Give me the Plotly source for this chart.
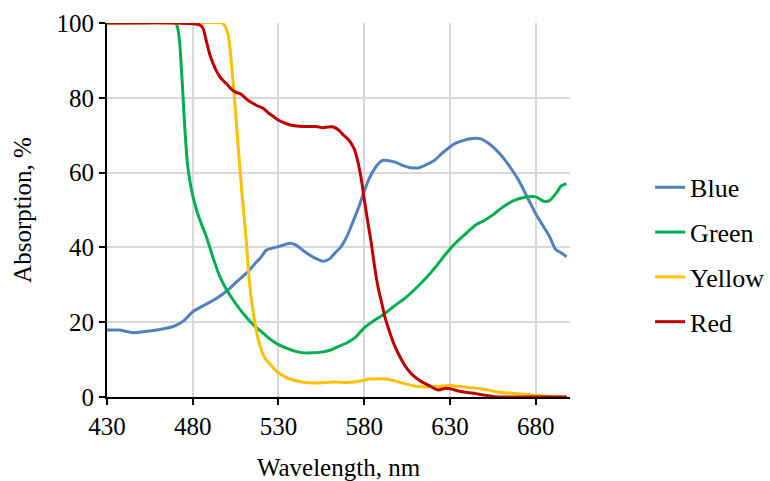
import plotly.graph_objects as go

# Wavelength (nm) / absorption (%)
blue_x = [430, 437, 445, 452, 460, 466, 470.5, 475, 480, 487, 494, 501.5, 506, 511, 516, 520, 523, 528, 532, 536.5, 540, 544, 548, 552, 556, 560, 563, 566.5, 570, 574, 577, 580, 583, 586, 588.5, 591, 594, 598, 602, 607, 612, 617, 621, 625, 629, 633, 637, 641, 645, 648, 652, 656, 661, 665, 670, 675, 680, 684, 688, 691.5, 695, 698]
blue_y = [17.9, 17.9, 17.2, 17.5, 18, 18.5, 19.2, 20.5, 22.8, 24.6, 26.4, 29, 31, 33, 35.5, 37.5, 39.3, 40, 40.5, 41.1, 40.7, 39.3, 38, 37, 36.3, 37, 38.5, 40.2, 43, 47.5, 51, 55, 58.5, 61, 62.5, 63.3, 63.2, 62.8, 62, 61.3, 61.3, 62.3, 63.3, 65, 66.5, 67.8, 68.5, 69, 69.2, 69, 68, 66.5, 64, 61.5, 58, 53.5, 49, 46, 43, 39.5, 38.5, 37.5]

green_x = [430, 450, 470, 471.5, 472.5, 473.5, 474.5, 475.5, 477, 479, 481, 484, 488, 492, 496, 500, 505, 510, 515, 520, 525, 530, 535, 540, 545, 550, 555, 560, 565, 570, 575, 580, 586, 592, 598, 604, 610, 616, 622, 628, 634, 640, 645, 650, 655, 660, 665, 670, 675, 680, 685, 688, 692, 695, 698]
green_y = [100, 100, 100, 98, 94, 87, 79, 71, 62, 56, 52, 47.5, 42.8, 37, 32, 28.5, 25, 22, 19.5, 17.5, 15.5, 14, 13, 12.2, 11.8, 11.8, 12, 12.5, 13.5, 14.5, 16, 18.5, 20.5, 22.3, 24.5, 26.5, 29, 31.8, 35, 38.5, 41.5, 44, 46, 47.2, 48.7, 50.5, 52, 53, 53.5, 53.5, 52.3, 52.5, 54.5, 56.5, 57]

yellow_x = [430, 480, 497, 499, 501, 503, 505, 507, 509, 511, 513, 515, 517, 519, 522, 525, 529, 533, 538, 543, 548, 555, 562, 570, 577, 583, 588, 593, 598, 604, 610, 617, 624, 630, 636, 642, 648, 654, 660, 666, 672, 678, 684, 690, 698]
yellow_y = [100, 100, 100, 99, 96, 87, 76, 64, 53, 43, 31, 23.5, 18, 14, 10.5, 8.8, 6.8, 5.6, 4.6, 4.1, 3.8, 3.8, 4, 3.9, 4.2, 4.8, 4.9, 4.8, 4.3, 3.5, 2.9, 2.7, 2.9, 3.1, 2.8, 2.5, 2.2, 1.7, 1.2, 1, 0.8, 0.5, 0.3, 0.1, 0]

red_x = [430, 470, 484, 486, 488, 490, 492, 494, 496, 498, 500, 502, 505, 508, 511, 514, 517, 521, 524, 527, 530, 534, 538, 542, 547, 552, 556, 559, 562, 565, 568, 571, 574, 576, 578, 580, 582, 584, 586, 588, 590, 592, 594, 597, 600, 604, 608, 613, 618, 623, 627, 630, 635, 640, 645, 650, 656, 665, 680, 698]
red_y = [100, 100, 99.5, 98.6, 95, 91.5, 89, 87, 85.5, 84.5, 83.6, 82.5, 81.5, 81, 79.8, 78.8, 78, 77.2, 76, 75, 74, 73.2, 72.6, 72.4, 72.3, 72.3, 72, 72.2, 72.2, 71.4, 70, 68.7, 66.5, 63.5, 59, 53, 47, 41.5, 35, 29.5, 25.5, 21.5, 18.5, 14.5, 11.5, 8.2, 6, 4.2, 3, 1.9, 2.3, 2.2, 1.6, 1.2, 0.9, 0.5, 0.1, 0, 0, 0]

x_ticks = [430, 480, 530, 580, 630, 680]
y_ticks = [0, 20, 40, 60, 80, 100]

series = [
    ("Blue", blue_x, blue_y, "#4F81BD"),
    ("Green", green_x, green_y, "#00B050"),
    ("Yellow", yellow_x, yellow_y, "#FFC000"),
    ("Red", red_x, red_y, "#C00000"),
]

FONT = "Liberation Serif, Times New Roman, serif"
TICK_FS = 25
TITLE_FS = 25
LEG_FS = 26

fig = go.Figure()
for name, xs, ys, col in series:
    fig.add_trace(go.Scatter(
        x=xs, y=ys, name=name, mode="lines", legendgroup=name,
        line=dict(color=col, width=3, shape="spline", smoothing=0.6),
    ))

fig.update_layout(
    width=770, height=481,
    margin=dict(l=107, r=200, t=23, b=84, autoexpand=False),
    paper_bgcolor="white", plot_bgcolor="white",
    font=dict(family=FONT, size=TICK_FS, color="black"),
    legend=dict(
        x=1.173, xanchor="left", y=0.38, yanchor="middle",
        font=dict(family=FONT, size=LEG_FS, color="black"),
        tracegroupgap=8, traceorder="grouped",
        bgcolor="rgba(0,0,0,0)",
    ),
    showlegend=True,
)
fig.update_xaxes(
    range=[430, 700], tickvals=x_ticks, ticktext=[str(v) for v in x_ticks],
    showline=True, linecolor="black", linewidth=2,
    ticks="outside", ticklen=6, tickwidth=1.5, tickcolor="black",
    showgrid=True, gridcolor="#D9D9D9", gridwidth=1.5, zeroline=False,
    automargin=False,
    title=dict(text="Wavelength, nm", standoff=20, font=dict(family=FONT, size=TITLE_FS)),
    tickfont=dict(family=FONT, size=TICK_FS),
)
fig.update_yaxes(
    range=[0, 100], tickvals=y_ticks, ticktext=[str(v) for v in y_ticks],
    showline=True, linecolor="black", linewidth=2,
    ticks="outside", ticklen=6, tickwidth=1.5, tickcolor="black",
    showgrid=True, gridcolor="#D9D9D9", gridwidth=1.5, zeroline=False,
    automargin=False,
    title=dict(text="Absorption, %", standoff=18, font=dict(family=FONT, size=TITLE_FS)),
    tickfont=dict(family=FONT, size=TICK_FS),
)

fig.write_html("out.html", config={"displayModeBar": False},
               post_script="document.body.style.margin='0px';")
